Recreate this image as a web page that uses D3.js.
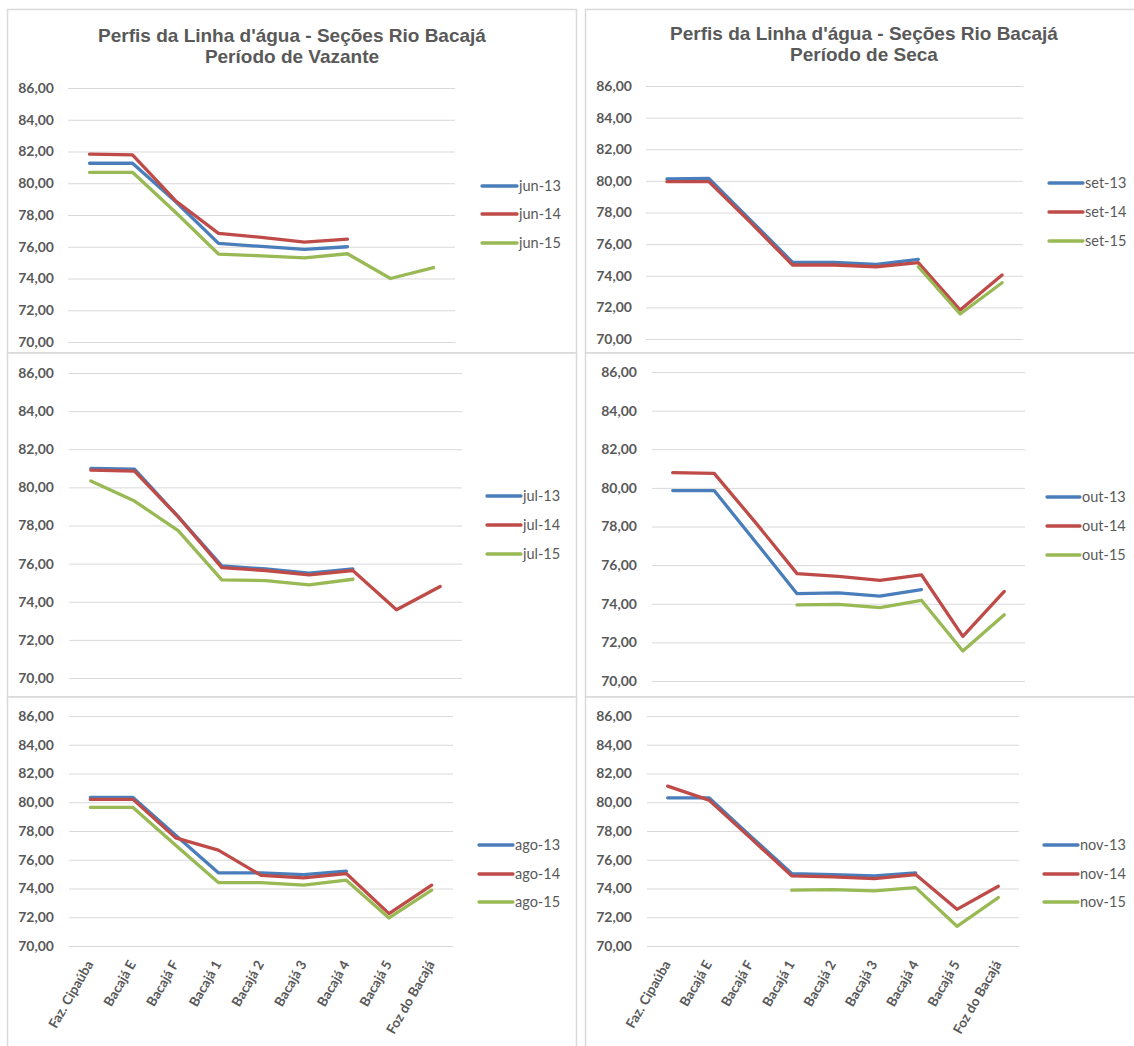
<!DOCTYPE html>
<html>
<head>
<meta charset="utf-8">
<script src="https://cdn.jsdelivr.net/npm/d3@7"></script>
<style>
  html, body { margin: 0; padding: 0; background: #ffffff; }
  svg { display: block; }
</style>
</head>
<body>
<svg id="chart" width="1134" height="1046"></svg>
<script>
// ---------- DATA ----------
const categories = ["Faz. Cipaúba", "Bacajá E", "Bacajá F", "Bacajá 1", "Bacajá 2", "Bacajá 3", "Bacajá 4", "Bacajá 5", "Foz do Bacajá"];
const yTicks = [70, 72, 74, 76, 78, 80, 82, 84, 86];
const titleLine1 = "Perfis da Linha d'água - Seções Rio Bacajá";
const titleVazante = "Período de Vazante";
const titleSeca = "Período de Seca";

const junLabels = ["jun-13", "jun-14", "jun-15"];
const jun13 = [81.26, 81.26, 78.85, 76.21, 76.02, 75.83, 76.00, null, null];
const jun14 = [81.83, 81.79, 78.90, 76.84, 76.59, 76.29, 76.48, null, null];
const jun15 = [80.69, 80.69, 78.17, 75.54, 75.43, 75.30, 75.56, 74.00, 74.69];

const julLabels = ["jul-13", "jul-14", "jul-15"];
const jul13 = [80.99, 80.96, 78.46, 75.88, 75.72, 75.50, 75.72, null, null];
const jul14 = [80.90, 80.85, 78.46, 75.79, 75.64, 75.41, 75.64, 73.58, 74.80];
const jul15 = [80.33, 79.28, 77.73, 75.15, 75.11, 74.89, 75.18, null, null];

const agoLabels = ["ago-13", "ago-14", "ago-15"];
const ago13 = [80.33, 80.33, 77.71, 75.09, 75.09, 74.97, 75.20, null, null];
const ago14 = [80.20, 80.20, 77.52, 76.67, 74.92, 74.74, 75.04, 72.25, 74.23];
const ago15 = [79.64, 79.64, 77.01, 74.41, 74.41, 74.23, 74.58, 71.95, 73.88];

const setLabels = ["set-13", "set-14", "set-15"];
const set13 = [80.12, 80.16, 77.50, 74.85, 74.85, 74.72, 75.04, null, null];
const set14 = [79.95, 79.95, 77.36, 74.68, 74.68, 74.57, 74.83, 71.83, 74.05];
const set15 = [null, null, null, null, null, null, 74.57, 71.58, 73.56];

const outLabels = ["out-13", "out-14", "out-15"];
const out13 = [79.86, 79.86, 77.20, 74.52, 74.56, 74.40, 74.73, null, null];
const out14 = [80.79, 80.75, 78.20, 75.56, 75.42, 75.21, 75.50, 72.31, 74.64];
const out15 = [null, null, null, 73.94, 73.97, 73.80, 74.18, 71.55, 73.43];

const novLabels = ["nov-13", "nov-14", "nov-15"];
const nov13 = [80.31, 80.31, 77.66, 75.04, 74.97, 74.88, 75.09, null, null];
const nov14 = [81.12, 80.15, 77.52, 74.88, 74.81, 74.69, 74.97, 72.55, 74.16];
const nov15 = [null, null, null, 73.88, 73.92, 73.83, 74.06, 71.37, 73.37];

// ---------- STYLE / LAYOUT ----------
const colors = ["#4a7ebb", "#be4b48", "#98b954"];
const textColor = "#595959";
const gridColor = "#d9d9d9";
const borderColor = "#d9d9d9";

const panels = [
  { labels: junLabels, series: [jun13, jun14, jun15], box: [7.5, 9.5, 569, 343.5],
    px: [68, 455], py: [342, 88], tp: 14, lx: [482, 517], ly: [186, 214, 243],
    title: [titleLine1, titleVazante], tx: 292, ty: [42, 63], xLabels: false },
  { labels: setLabels, series: [set13, set14, set15], box: [585.5, 9.5, 560, 343.5],
    px: [646, 1023], py: [339, 86], tp: 14, lx: [1049, 1083], ly: [183, 212, 241],
    title: [titleLine1, titleSeca], tx: 864, ty: [40, 61], xLabels: false },
  { labels: julLabels, series: [jul13, jul14, jul15], box: [7.5, 353, 569, 344],
    px: [69, 462], py: [678, 373], tp: 15, lx: [487, 521], ly: [496, 525, 554],
    title: null, xLabels: false },
  { labels: outLabels, series: [out13, out14, out15], box: [585.5, 353, 560, 344],
    px: [652, 1025], py: [681, 372], tp: 15, lx: [1047, 1080], ly: [497, 526, 555],
    title: null, xLabels: false },
  { labels: agoLabels, series: [ago13, ago14, ago15], box: [7.5, 697, 569, 360],
    px: [69, 453], py: [946, 716], tp: 15, lx: [479, 513], ly: [845, 874, 902],
    title: null, xLabels: true },
  { labels: novLabels, series: [nov13, nov14, nov15], box: [585.5, 697, 560, 360],
    px: [647, 1019], py: [946, 716], tp: 15, lx: [1044, 1078], ly: [845, 874, 902],
    title: null, xLabels: true }
];

const svg = d3.select("#chart");
svg.append("rect").attr("width", 1134).attr("height", 1046).attr("fill", "#fff");

const fmt = d => d.toFixed(2).replace(".", ",");

panels.forEach(p => {
  const g = svg.append("g");
  g.append("rect")
    .attr("x", p.box[0]).attr("y", p.box[1])
    .attr("width", p.box[2]).attr("height", p.box[3])
    .attr("fill", "#fff").attr("stroke", borderColor).attr("stroke-width", 1.5);

  const x = d3.scalePoint().domain(categories).range(p.px).padding(0.5);
  const y = d3.scaleLinear().domain([70, 86]).range(p.py);

  // grid + y labels
  const ya = g.append("g").attr("transform", `translate(${p.px[0]},0)`)
    .call(d3.axisLeft(y).tickValues(yTicks).tickFormat(fmt)
      .tickSize(-(p.px[1] - p.px[0])).tickPadding(p.tp));
  ya.select(".domain").remove();
  ya.selectAll("line").attr("stroke", gridColor).attr("stroke-width", 1);
  ya.selectAll("text").attr("fill", textColor)
    .style("font-family", "Lato, 'Open Sans', sans-serif")
    .style("font-size", "14px").style("font-weight", "bold");

  // x labels
  if (p.xLabels) {
    const xa = g.append("g").attr("transform", `translate(0,${p.py[0]})`)
      .call(d3.axisBottom(x).tickSize(0).tickPadding(0));
    xa.select(".domain").remove();
    xa.selectAll("text")
      .attr("fill", textColor)
      .style("font-family", "Lato, 'Open Sans', sans-serif")
      .style("font-size", "13.5px").style("font-weight", "bold")
      .attr("text-anchor", "end")
      .attr("y", 0).attr("dy", 0)
      .attr("transform", "translate(3,18) rotate(-60)");
  }

  // lines
  const line = d3.line()
    .defined(d => d.v != null)
    .x(d => x(d.c)).y(d => y(d.v));
  p.series.forEach((s, i) => {
    const pts = categories.map((c, j) => ({ c, v: s[j] }));
    g.append("path").datum(pts)
      .attr("d", line)
      .attr("fill", "none")
      .attr("stroke", colors[i])
      .attr("stroke-width", 3.3)
      .attr("stroke-linejoin", "round")
      .attr("stroke-linecap", "round");
  });

  // legend
  p.labels.forEach((lab, i) => {
    g.append("line")
      .attr("x1", p.lx[0]).attr("x2", p.lx[1])
      .attr("y1", p.ly[i]).attr("y2", p.ly[i])
      .attr("stroke", colors[i]).attr("stroke-width", 3.3)
      .attr("stroke-linecap", "round");
    g.append("text")
      .attr("x", p.lx[1] + 2).attr("y", p.ly[i]).attr("dy", "0.35em")
      .attr("fill", textColor)
      .style("font-family", "Lato, 'Open Sans', sans-serif")
      .style("font-size", "14.5px")
      .text(lab);
  });

  // title
  if (p.title) {
    p.title.forEach((t, i) => {
      g.append("text")
        .attr("x", p.tx).attr("y", p.ty[i])
        .attr("text-anchor", "middle")
        .attr("fill", textColor)
        .style("font-family", "'Liberation Sans', Arial, sans-serif")
        .style("font-size", "19px").style("font-weight", "bold")
        .text(t);
    });
  }
});
</script>
</body>
</html>
